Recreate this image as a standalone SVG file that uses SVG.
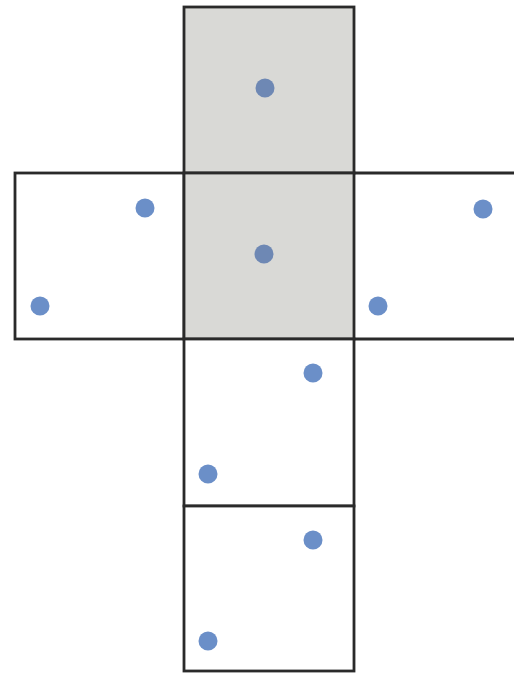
<svg xmlns="http://www.w3.org/2000/svg" width="514" height="675" viewBox="0 0 514 675">
<style>
.face{stroke:#2a2a2a;stroke-width:2.8;}
.grey{fill:#d9d9d6;}
.white{fill:#ffffff;}
.dot{fill:#6b8fc8;}
.dotg{fill:#6e88b4;}
</style>
<rect width="514" height="675" fill="#ffffff"/>
<g id="face-right"><path class="face white" d="M354 173 H516 V339 H354"/><circle class="dot" cx="483" cy="209" r="9.5"/></g>
<g id="face-left"><rect class="face white" x="15" y="173" width="169" height="166"/><circle class="dot" cx="145" cy="208" r="9.5"/><circle class="dot" cx="40" cy="306" r="9.5"/></g>
<g id="face-top"><rect class="face grey" x="184" y="7" width="170" height="166"/><circle class="dotg" cx="265" cy="88" r="9.5"/></g>
<g id="face-center"><rect class="face grey" x="184" y="173" width="170" height="166"/><circle class="dotg" cx="264" cy="254" r="9.5"/></g>
<g id="face-right-dot"><circle class="dot" cx="378" cy="306" r="9.5"/></g>
<g id="face-lower"><rect class="face white" x="184" y="339" width="170" height="167"/><circle class="dot" cx="313" cy="373" r="9.5"/><circle class="dot" cx="208" cy="474" r="9.5"/></g>
<g id="face-bottom"><rect class="face white" x="184" y="506" width="170" height="165"/><circle class="dot" cx="313" cy="540" r="9.5"/><circle class="dot" cx="208" cy="641" r="9.5"/></g>
<g id="connectors"></g>
</svg>
